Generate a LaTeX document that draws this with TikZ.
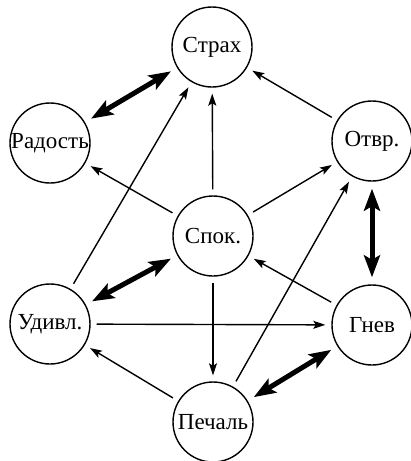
\documentclass[tikz,border=0pt]{standalone}
\usepackage{fontspec}
\setmainfont{Liberation Serif}
\newfontfamily\rusfont{Liberation Serif}
\usetikzlibrary{arrows.meta}
\begin{document}
\begin{tikzpicture}[x=1pt,y=-1pt,
  emo/.style={circle,draw,line width=1.4pt,minimum size=80pt,inner sep=0pt,
    font=\rusfont\fontsize{23}{27}\selectfont},
  thin/.style={line width=1.4pt,-{Stealth[length=12pt,width=8pt,inset=2.5pt]},
    shorten >=6pt,shorten <=6pt},
  thick/.style={line width=5pt,{Stealth[length=22pt,width=16pt,inset=4.5pt]}-{Stealth[length=22pt,width=16pt,inset=4.5pt]},
    shorten >=7pt,shorten <=7pt}]
\useasboundingbox (0,0) rectangle (411,461);
\node[emo] (fear) at (212,47) {Страх};
\node[emo] (joy) at (50,143) {Радость};
\node[emo] (disg) at (372,141) {Отвр.};
\node[emo] (calm) at (213,236) {Спок.};
\node[emo] (surp) at (50,324) {Удивл.};
\node[emo] (anger) at (372,325) {Гнев};
\node[emo] (sad) at (213,422) {Печаль};
\draw[thick] (joy) -- (fear);
\draw[thick] (surp) -- (calm);
\draw[thick] (disg) -- (anger);
\draw[thick] (sad) -- (anger);
\draw[thin] (disg) -- (fear);
\draw[thin] (calm) -- (fear);
\draw[thin] (calm) -- (joy);
\draw[thin] (calm) -- (disg);
\draw[thin] (surp) -- (fear);
\draw[thin] (sad) -- (disg);
\draw[thin] (anger) -- (calm);
\draw[thin] (surp) -- (anger);
\draw[thin] (calm) -- (sad);
\draw[thin] (sad) -- (surp);
\end{tikzpicture}
\end{document}
